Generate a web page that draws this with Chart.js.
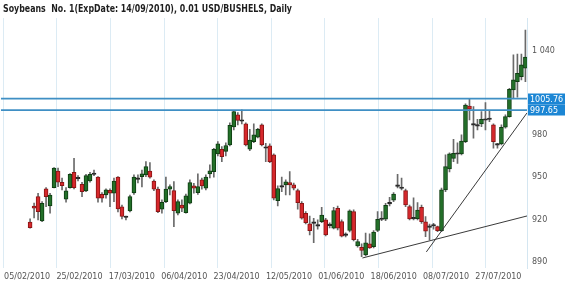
<!DOCTYPE html>
<html><head><meta charset="utf-8">
<script src="https://cdn.jsdelivr.net/npm/chart.js@4.4.1/dist/chart.umd.min.js"></script>
<style>html,body{margin:0;padding:0;background:#fff;}canvas{display:block;}</style>
</head><body>
<canvas id="c" width="570" height="286"></canvas>
<script>
const titleText = 'Soybeans  No. 1(ExpDate: 14/09/2010), 0.01 USD/BUSHELS, Daily';
const tickLabels = ['05/02/2010','25/02/2010','17/03/2010','06/04/2010','23/04/2010','12/05/2010','01/06/2010','18/06/2010','08/07/2010','27/07/2010'];
const yTickValues = [890, 920, 950, 980, 1040];

const opens = [918.2,929.7,936.3,919.1,941.8,929.7,942.7,954.5,946.5,934.5,942.7,953.6,949.4,945.1,940.4,947.4,952.0,950.1,938.0,937.5,940.8,938.7,950.1,929.0,921.9,926.2,938.9,948.9,950.5,951.7,954.5,947.4,941.6,927.4,932.8,941.6,940.6,924.5,930.4,925.0,931.6,943.9,939.1,948.2,942.3,952.4,954.0,966.6,969.9,968.4,973.0,985.7,994.3,990.2,987.9,969.9,975.3,978.4,987.2,970.9,972.3,965.9,933.5,943.2,944.6,946.2,944.6,940.6,931.6,924.5,917.0,917.6,915.7,918.6,919.8,916.0,913.9,928.1,918.6,909.0,912.3,925.7,901.3,900.3,895.0,902.8,900.9,912.3,920.1,920.3,931.2,933.8,943.6,942.3,940.6,929.2,920.8,920.6,928.8,918.4,914.8,915.5,915.0,912.2,941.1,956.0,963.5,966.4,966.6,975.3,1000.6,987.3,986.6,987.9,990.5,991.0,987.2,973.0,973.7,985.5,993.0,1012.0,1017.9,1021.4,1027.4];
const highs = [920.5,931.8,938.7,932.8,942.7,938.7,957.0,956.5,949.4,942.7,952.6,963.5,951.2,946.5,952.2,953.6,955.2,950.5,939.1,941.8,941.8,949.4,950.5,930.4,922.6,937.5,951.7,951.7,955.2,961.1,960.4,948.2,943.0,934.0,950.1,944.6,947.0,934.0,934.0,938.2,948.2,945.8,952.4,949.4,951.7,958.8,970.6,975.3,971.8,974.4,988.6,997.3,995.9,997.8,988.6,984.1,987.9,984.8,987.9,974.2,973.7,966.6,943.9,950.1,948.2,954.0,946.0,941.6,932.8,925.7,922.6,921.0,919.8,928.8,921.0,917.7,928.7,929.7,919.8,910.6,926.9,926.9,906.1,902.8,910.4,910.0,912.2,925.7,925.7,931.6,935.9,939.1,952.1,949.4,941.6,930.4,935.4,932.1,930.4,922.1,916.9,917.4,915.5,942.3,965.9,967.3,977.0,974.4,980.1,1002.1,1006.1,1000.1,991.2,996.6,1003.0,997.3,987.9,974.2,987.2,994.3,1013.2,1036.8,1037.5,1037.5,1054.5];
const lows = [913.9,921.2,919.8,918.6,929.2,924.5,942.5,943.4,941.1,932.3,942.3,941.8,947.4,936.3,939.9,946.5,951.2,932.3,932.3,935.2,929.2,932.8,925.5,920.5,919.8,925.5,937.9,946.0,943.2,950.5,949.4,940.6,925.0,924.5,932.1,937.5,915.0,923.3,925.7,924.5,931.1,938.7,937.8,941.6,941.1,949.6,950.1,965.2,961.1,965.2,972.3,983.6,987.2,987.9,972.3,968.9,974.6,977.9,972.3,961.1,960.4,934.0,929.7,939.9,937.5,937.5,941.1,927.4,920.3,917.0,909.1,903.7,913.2,917.9,908.4,914.1,913.4,912.7,907.7,907.7,911.3,904.9,900.4,893.8,894.3,899.6,899.9,911.5,919.3,919.3,929.7,932.8,942.5,941.1,929.2,919.8,919.8,919.8,917.4,908.0,905.6,913.2,911.5,911.5,939.9,953.8,961.1,959.8,965.9,974.6,990.7,977.7,983.6,986.0,983.6,989.5,970.6,970.6,973.0,984.8,992.6,1006.1,1006.8,1019.1,1017.9];
const closes = [914.3,928.1,925.7,931.6,936.3,937.5,956.5,946.5,944.1,940.4,952.2,942.7,949.0,939.9,951.2,952.2,952.4,935.2,935.2,941.1,938.7,947.4,927.6,922.3,921.5,936.3,950.1,948.5,952.4,957.6,950.1,941.6,925.7,932.3,941.6,943.4,926.4,932.8,928.1,936.8,946.2,942.3,943.4,943.9,950.1,954.7,969.9,973.7,964.7,972.6,986.8,996.6,990.4,989.8,973.0,976.5,980.1,984.1,973.0,970.6,961.1,935.2,942.0,943.0,946.9,944.6,942.3,932.1,921.0,917.9,912.2,917.3,915.4,923.3,909.1,915.7,926.5,913.9,908.2,908.8,926.2,905.8,904.4,898.2,903.5,899.9,911.1,920.3,920.5,930.1,931.5,938.2,943.8,942.1,930.4,920.5,920.5,926.7,918.6,911.8,914.5,915.7,912.2,941.1,957.6,966.6,967.1,966.7,975.7,1001.3,998.3,987.0,986.3,991.2,990.8,991.3,975.3,972.8,985.5,993.0,1012.5,1019.1,1023.8,1029.7,1035.2];

const levelValues = [1005.76, 997.65];
const trendLow = [{x: 83.2, y: 892.8}, {x: 124.4, y: 922.6}];
const trendHigh = [{x: 99.2, y: 897.1}, {x: 124.4, y: 995.7}];

const GRID_STEP = 13.42, LABEL_STEP = 13.11, LABEL_START = -0.75;
const X_MIN = -7.33, X_MAX = 124.4;
const Y_MIN = 885.7, Y_MAX = 1063;

const idx = opens.map((_, i) => i);
const wicks = idx.map(i => ({x: i, y: [lows[i], highs[i]]}));
const bodies = idx.map(i => ({x: i, y: [Math.min(opens[i], closes[i]), Math.max(opens[i], closes[i])]}));
const isDoji = idx.map(i => Math.abs(closes[i] - opens[i]) < 0.6);
const isUp = idx.map(i => closes[i] >= opens[i]);
const bodyFill = idx.map(i => isDoji[i] ? '#222' : (isUp[i] ? '#237029' : '#d6282c'));
const bodyBorder = idx.map(i => isDoji[i] ? '#222' : (isUp[i] ? '#0e3d12' : '#8a1515'));

const levelSets = levelValues.map(v => ({
  type: 'line', xAxisID: 'x', data: [{x: X_MIN, y: v}, {x: X_MAX, y: v}],
  borderColor: '#3f8fc4', borderWidth: 1.7, pointRadius: 0, order: 0
}));
const trendSets = [trendLow, trendHigh].map(d => ({
  type: 'line', xAxisID: 'x', data: d, borderColor: '#3a3a3a', borderWidth: 1, pointRadius: 0, order: 0
}));

const fmt = v => String(v).replace(/\B(?=(\d{3})+(?!\d))/g, '\u00a0');

const overlay = {
  id: 'overlay',
  afterDraw(chart) {
    const ctx = chart.ctx, area = chart.chartArea, ys = chart.scales.y;
    ctx.save();
    ctx.fillStyle = '#1e1e1e';
    ctx.font = 'bold 10px "DejaVu Sans"';
    const w = ctx.measureText(titleText).width;
    const sx = Math.min(1, 289 / w);
    ctx.textBaseline = 'alphabetic';
    ctx.textAlign = 'left';
    ctx.save();
    ctx.translate(3, 12);
    ctx.scale(sx, 1);
    ctx.fillText(titleText, 0, 0);
    ctx.restore();
    ctx.font = '8px "DejaVu Sans"';
    ctx.textBaseline = 'middle';
    levelValues.forEach(v => {
      const y = ys.getPixelForValue(v);
      ctx.fillStyle = '#1c86d4';
      ctx.fillRect(area.right + 1, Math.round(y) - 5.5, 37, 11);
      ctx.fillStyle = '#ffffff';
      ctx.fillText(v.toFixed(2), area.right + 3, Math.round(y) + 0.5);
    });
    ctx.restore();
  }
};

new Chart(document.getElementById('c'), {
  type: 'bar',
  data: {
    datasets: [
      ...levelSets,
      ...trendSets,
      {xAxisID: 'x', data: bodies, backgroundColor: bodyFill, borderColor: bodyBorder, borderWidth: 1, borderSkipped: false,
       barThickness: 4, minBarLength: 1.5, grouped: false, order: 1},
      {xAxisID: 'x', data: wicks, backgroundColor: '#6a6a6a', borderWidth: 0, barThickness: 1, grouped: false, order: 2}
    ]
  },
  options: {
    responsive: false, animation: false, devicePixelRatio: 1,
    layout: {padding: {top: 18, left: 0, right: 0, bottom: 0}},
    plugins: {legend: {display: false}, tooltip: {enabled: false}, title: {display: false}},
    scales: {
      x: {
        type: 'linear', position: 'bottom', min: X_MIN, max: X_MAX, offset: false,
        afterBuildTicks: s => { s.ticks = tickLabels.map((_, k) => ({value: k * GRID_STEP})); },
        ticks: {display: false},
        grid: {color: '#dcebf4', drawTicks: false, lineWidth: 1},
        border: {display: false},
        afterFit: s => { s.height = 0; }
      },
      xLabels: {
        type: 'linear', position: 'bottom', min: X_MIN, max: X_MAX, offset: false,
        afterBuildTicks: s => { s.ticks = tickLabels.map((_, k) => ({value: LABEL_START + k * LABEL_STEP})); },
        ticks: {autoSkip: false, maxRotation: 0, minRotation: 0, padding: 4, color: '#555',
                font: {family: 'DejaVu Sans', size: 8}, callback: (v, i) => tickLabels[i]},
        grid: {display: false, drawTicks: false},
        border: {display: false},
        afterFit: s => { s.height = 18; }
      },
      y: {
        position: 'right', min: Y_MIN, max: Y_MAX,
        afterBuildTicks: s => { s.ticks = yTickValues.map(v => ({value: v})); },
        ticks: {padding: 5, color: '#555', font: {family: 'DejaVu Sans', size: 8}, callback: v => fmt(v)},
        grid: {display: false, drawTicks: false},
        border: {display: true, color: '#d4e6f1'},
        afterFit: s => { s.width = 43; }
      }
    }
  },
  plugins: [overlay]
});
</script>
</body></html>
